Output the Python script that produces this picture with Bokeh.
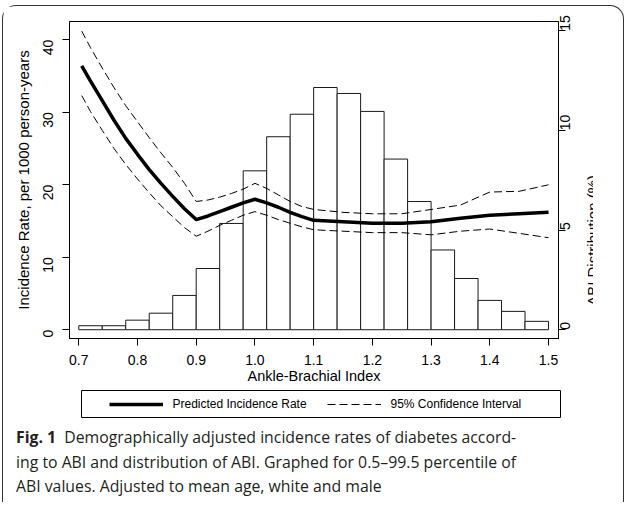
import math
from bokeh.plotting import figure
from bokeh.models import (Range1d, LinearAxis, FixedTicker, PrintfTickFormatter,
                          Legend, LegendItem, Div, Label)
from bokeh.layouts import column, row
from bokeh.embed import file_html
from bokeh.resources import INLINE

# ---- data ----
abi = [0.705, 0.72, 0.74, 0.76, 0.78, 0.80, 0.82, 0.84, 0.86, 0.88, 0.90,
       0.92, 0.94, 0.96, 0.98, 1.00, 1.02, 1.04, 1.06, 1.08, 1.10,
       1.15, 1.20, 1.25, 1.30, 1.35, 1.40, 1.45, 1.50]
predicted = [36.4, 34.3, 31.6, 28.9, 26.4, 24.2, 22.1, 20.2, 18.4, 16.7, 15.2,
             15.7, 16.3, 16.9, 17.5, 18.0, 17.5, 16.9, 16.2, 15.6, 15.1,
             14.9, 14.7, 14.7, 14.9, 15.4, 15.8, 16.0, 16.2]
ci_upper = [41.2, 38.9, 36.1, 33.4, 30.9, 28.7, 26.5, 24.4, 22.4, 20.2, 17.7,
            17.9, 18.3, 18.8, 19.4, 20.2, 19.5, 18.6, 17.7, 17.0, 16.6,
            16.2, 16.0, 16.0, 16.6, 17.2, 19.0, 19.1, 20.0]
ci_lower = [32.3, 30.1, 27.5, 25.0, 22.8, 20.8, 18.9, 17.1, 15.6, 14.1, 12.9,
            13.6, 14.4, 15.1, 15.8, 16.3, 15.8, 15.2, 14.7, 14.2, 13.8,
            13.6, 13.4, 13.4, 13.1, 13.6, 13.9, 13.3, 12.7]

bin_left = [0.70, 0.74, 0.78, 0.82, 0.86, 0.90, 0.94, 0.98, 1.02, 1.06,
            1.10, 1.14, 1.18, 1.22, 1.26, 1.30, 1.34, 1.38, 1.42, 1.46]
bin_right = [0.74, 0.78, 0.82, 0.86, 0.90, 0.94, 0.98, 1.02, 1.06, 1.10,
             1.14, 1.18, 1.22, 1.26, 1.30, 1.34, 1.38, 1.42, 1.46, 1.50]
abi_pct = [0.2, 0.2, 0.48, 0.83, 1.72, 3.07, 5.33, 7.97, 9.68, 10.81,
           12.15, 11.85, 10.95, 8.56, 6.43, 4.0, 2.57, 1.47, 0.92, 0.42]

x_ticks = [0.7, 0.8, 0.9, 1.0, 1.1, 1.2, 1.3, 1.4, 1.5]
left_ticks = [0, 10, 20, 30, 40]
right_ticks = [0, 5, 10, 15]

FONT = "Liberation Sans"
RIGHT_RANGE = (-0.44, 15.46)

p = figure(frame_width=489, frame_height=317,
           x_range=Range1d(0.6842, 1.517), y_range=Range1d(-1.2, 42.52),
           output_backend="svg", toolbar_location=None,
           min_border_left=66, min_border_right=0,
           min_border_top=15, min_border_bottom=50)
p.extra_y_ranges = {"right": Range1d(*RIGHT_RANGE)}
p.xgrid.visible = False
p.ygrid.visible = False
p.outline_line_color = "black"
p.outline_line_width = 1
p.background_fill_color = "white"
p.border_fill_color = "white"

p.quad(left=bin_left, right=bin_right, bottom=0, top=abi_pct,
       y_range_name="right", fill_color="white", line_color="#1a1a1a",
       line_width=1)
p.line(abi, ci_upper, line_color="black", line_width=1, line_dash="8 4")
p.line(abi, ci_lower, line_color="black", line_width=1, line_dash="8 4")
p.line(abi, predicted, line_color="black", line_width=3.5, line_join="round")


def style_axis(ax):
    ax.major_label_text_font = FONT
    ax.major_label_text_font_size = "14px"
    ax.major_label_text_color = "black"
    ax.axis_label_text_font = FONT
    ax.axis_label_text_font_size = "14.5px"
    ax.axis_label_text_font_style = "normal"
    ax.axis_label_text_color = "black"
    ax.axis_line_color = "black"
    ax.major_tick_line_color = "black"
    ax.major_tick_out = 7
    ax.major_tick_in = 0
    ax.minor_tick_line_color = None


xa = p.xaxis[0]
style_axis(xa)
xa.ticker = FixedTicker(ticks=x_ticks)
xa.formatter = PrintfTickFormatter(format="%.1f")
xa.axis_label = "Ankle-Brachial Index"
xa.major_label_standoff = 9
xa.axis_label_standoff = 0

ya = p.yaxis[0]
style_axis(ya)
ya.ticker = FixedTicker(ticks=left_ticks)
ya.major_label_orientation = math.pi / 2
ya.axis_label = "Incidence Rate, per 1000 person-years"
ya.axis_label_text_font_size = "15px"
ya.major_label_standoff = 14
ya.axis_label_standoff = 4

ra = LinearAxis(y_range_name="right", ticker=FixedTicker(ticks=right_ticks))
style_axis(ra)
ra.major_label_orientation = math.pi / 2
ra.major_label_standoff = 0
p.add_layout(ra, "right")

# ---- right-axis title strip (reads bottom-to-top like the original) ----
tf = figure(width=15, height=382, x_range=Range1d(0, 1),
            y_range=Range1d(*RIGHT_RANGE),
            output_backend="svg", toolbar_location=None,
            min_border_left=0, min_border_right=0,
            min_border_top=15, min_border_bottom=50,
            x_axis_type=None, y_axis_type=None)
tf.outline_line_color = None
tf.grid.visible = False
tf.add_layout(Label(x=0.93, y=4.48, text="ABI Distribution (%)", angle=math.pi / 2,
                    text_align="center", text_baseline="middle",
                    text_font=FONT, text_font_size="15px", text_color="black"))

# ---- legend box ----
lg = figure(frame_width=479, frame_height=27,
            x_range=Range1d(0, 1), y_range=Range1d(0, 1),
            output_backend="svg", toolbar_location=None,
            min_border_left=78, min_border_right=51,
            min_border_top=2, min_border_bottom=1,
            x_axis_type=None, y_axis_type=None)
lg.grid.visible = False
lg.outline_line_color = "black"
lg.outline_line_width = 1
r1 = lg.line(abi, predicted, line_color="black", line_width=3.5)
r2 = lg.line(abi, ci_upper, line_color="black", line_width=1, line_dash="8 4")
legend = Legend(items=[LegendItem(label="Predicted Incidence Rate", renderers=[r1]),
                       LegendItem(label="95% Confidence Interval", renderers=[r2])],
                orientation="horizontal", location=(27.5, 3.5),
                glyph_width=54, glyph_height=20, label_height=20,
                label_standoff=10, label_width=138, spacing=16,
                padding=0, margin=0, border_line_alpha=0,
                background_fill_alpha=0,
                label_text_font=FONT, label_text_font_size="12px",
                label_text_color="black")
lg.add_layout(legend)

# ---- caption ----
line_style = "text-align:justify;text-align-last:justify"
cap_html = (
    '<div style="margin:2px 17px 0 8px;font-family:\'Open Sans\';'
    'font-size:15.8px;line-height:24.5px;color:#231f20">'
    f'<div style="{line_style}"><b>Fig. 1</b>&nbsp; Demographically adjusted incidence rates of diabetes accord-</div>'
    f'<div style="{line_style}">ing to ABI and distribution of ABI. Graphed for 0.5\u201399.5 percentile of</div>'
    '<div style="text-align:left">ABI values. Adjusted to mean age, white and male</div>'
    '</div>'
)
cap = Div(text=cap_html, width=610, height=74)

boxed = column(row(p, tf), lg, cap,
               styles={"border": "1px solid #333333", "border-bottom": "none",
                       "border-radius": "14px 14px 0 0"})
top_gap = Div(text="", width=2, height=5, margin=0)
left_gap = Div(text="", width=2, height=5, margin=0)
layout = column(top_gap, row(left_gap, boxed))

open("out.html", "w").write(file_html(layout, INLINE))
